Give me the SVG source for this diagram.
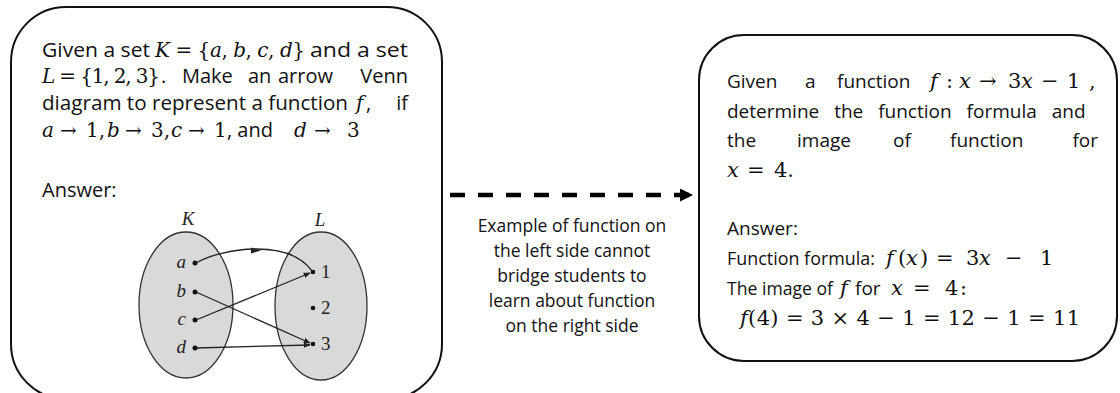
<svg xmlns="http://www.w3.org/2000/svg" width="1120" height="393" viewBox="0 0 1120 393">
<defs>
<style>
.box{fill:#fff;stroke:#111;stroke-width:2}
.t{font-family:"Open Sans","Noto Sans",sans-serif;font-size:20px;fill:#111}
.tr{font-family:"Open Sans","Noto Sans",sans-serif;font-size:19px;fill:#111}
.c{font-family:"Open Sans","Noto Sans",sans-serif;font-size:17.5px;fill:#111;text-anchor:middle}
.m{font-family:"DejaVu Serif","Liberation Serif",serif;font-size:20px;fill:#111}
.mr{font-family:"DejaVu Serif","Liberation Serif",serif;font-size:21px;fill:#111}
.it{font-style:italic}
.vi{font-family:"Liberation Serif","DejaVu Serif",serif;font-style:italic;font-size:19px;fill:#222}
.vr{font-family:"Liberation Serif","DejaVu Serif",serif;font-size:19px;fill:#222}
.ell{fill:#d9d9d9;stroke:#333;stroke-width:1.3}
.va{fill:none;stroke:#222;stroke-width:1.3}
.dot{fill:#111}
</style>
<marker id="ah" viewBox="0 0 10 10" refX="9" refY="5" markerWidth="7" markerHeight="7" orient="auto" markerUnits="userSpaceOnUse">
<path d="M0,1 L10,5 L0,9 Z" fill="#222"/>
</marker>
<marker id="big" viewBox="0 0 10 10" refX="10" refY="5" markerWidth="13" markerHeight="13" orient="auto" markerUnits="userSpaceOnUse">
<path d="M0,0 L10,5 L0,10 Z" fill="#000"/>
</marker>
</defs>

<g id="left-box">
<rect class="box" x="11" y="7" width="431" height="392" rx="55" ry="55"/>
<text class="t" x="42" y="57" textLength="108" lengthAdjust="spacingAndGlyphs">Given a set</text>
<text class="m" x="155" y="57" textLength="150" lengthAdjust="spacing"><tspan class="it">K</tspan> = {<tspan class="it">a</tspan>, <tspan class="it">b</tspan>, <tspan class="it">c</tspan>, <tspan class="it">d</tspan>}</text>
<text class="t" x="310" y="57" textLength="98" lengthAdjust="spacingAndGlyphs">and a set</text>
<text class="m" x="42" y="83" textLength="118" lengthAdjust="spacing"><tspan class="it">L</tspan> = {1, 2, 3}</text>
<text class="t" y="83"><tspan x="161">.</tspan><tspan x="182">Make</tspan><tspan x="248">an</tspan><tspan x="278">arrow</tspan></text>
<text class="t" x="408" y="83" text-anchor="end">Venn</text>
<text class="t" x="42" y="110" textLength="306" lengthAdjust="spacingAndGlyphs">diagram to represent a function</text>
<text class="m it" x="356" y="110">f</text>
<text class="t" x="366" y="110">,</text>
<text class="t" x="408" y="110" text-anchor="end">if</text>
<text class="m" y="137"><tspan class="it" x="42">a</tspan><tspan x="60">→</tspan><tspan x="86">1,</tspan><tspan class="it" x="107">b</tspan><tspan x="125">→</tspan><tspan x="151">3,</tspan><tspan class="it" x="171">c</tspan><tspan x="188">→</tspan><tspan x="214">1</tspan></text>
<text class="t" x="227" y="137">, and</text>
<text class="m" y="137"><tspan class="it" x="294">d</tspan><tspan x="314">→</tspan><tspan x="347">3</tspan></text>
<text class="t" x="42" y="197">Answer:</text>
</g>

<g id="venn">
<ellipse class="ell" cx="186" cy="305" rx="47" ry="73"/>
<ellipse class="ell" cx="321" cy="306" rx="46" ry="74"/>
<text class="vi" x="188" y="225" text-anchor="middle">K</text>
<text class="vi" x="320" y="226" text-anchor="middle">L</text>
<text class="vi" x="186" y="268" text-anchor="end">a</text>
<text class="vi" x="186" y="297" text-anchor="end">b</text>
<text class="vi" x="186" y="325" text-anchor="end">c</text>
<text class="vi" x="186" y="353" text-anchor="end">d</text>
<circle class="dot" cx="195" cy="263" r="2.5"/>
<circle class="dot" cx="195" cy="292" r="2.5"/>
<circle class="dot" cx="195" cy="320" r="2.5"/>
<circle class="dot" cx="195" cy="348" r="2.5"/>
<circle class="dot" cx="313" cy="272" r="2.3"/>
<circle class="dot" cx="313" cy="308" r="2.3"/>
<circle class="dot" cx="313" cy="344" r="2.3"/>
<text class="vr" x="321" y="278">1</text>
<text class="vr" x="321" y="314">2</text>
<text class="vr" x="321" y="350">3</text>
<path class="va" d="M196,263 C222,248 288,238 312,271"/>
<path d="M251,247.5 L261,250.5 L251,253.5 Z" fill="#222"/>
<path class="va" d="M196,320 L310,273" marker-end="url(#ah)"/>
<path class="va" d="M196,292 L310,343" marker-end="url(#ah)"/>
<path class="va" d="M196,348 L310,345" marker-end="url(#ah)"/>
</g>

<g id="connectors">
<path d="M450,195 L693,195" fill="none" stroke="#000" stroke-width="4.5" stroke-dasharray="15,13" marker-end="url(#big)"/>
</g>

<g id="middle-label">
<text class="c" x="572" y="232">Example of function on</text>
<text class="c" x="572" y="257">the left side cannot</text>
<text class="c" x="572" y="282">bridge students to</text>
<text class="c" x="572" y="307">learn about function</text>
<text class="c" x="572" y="332">on the right side</text>
</g>

<g id="right-box">
<rect class="box" x="699" y="35" width="418" height="326" rx="45" ry="45"/>
<text class="tr" y="88"><tspan x="727">Given</tspan><tspan x="805">a</tspan><tspan x="837">function</tspan></text>
<text class="mr" y="88"><tspan class="it" x="930">f</tspan><tspan x="946">:</tspan><tspan class="it" x="959">x</tspan><tspan x="979">→</tspan><tspan x="1008">3</tspan><tspan class="it" x="1021">x</tspan><tspan x="1041">−</tspan><tspan x="1067">1</tspan><tspan x="1089">,</tspan></text>
<text class="tr" x="727" y="118" word-spacing="10">determine the function formula and</text>
<text class="tr" y="147"><tspan x="727">the</tspan><tspan x="797">image</tspan><tspan x="893">of</tspan><tspan x="950">function</tspan></text>
<text class="tr" x="1098" y="147" text-anchor="end">for</text>
<text class="mr" y="177"><tspan class="it" x="727">x</tspan><tspan x="747">=</tspan><tspan x="774">4.</tspan></text>
<text class="tr" x="727" y="235">Answer:</text>
<text class="tr" x="727" y="265" textLength="148" lengthAdjust="spacingAndGlyphs">Function formula:</text>
<text class="mr" y="265"><tspan class="it" x="886">f</tspan><tspan x="898">(</tspan><tspan class="it" x="906">x</tspan><tspan x="920">)</tspan><tspan x="936">=</tspan><tspan x="966">3</tspan><tspan class="it" x="979">x</tspan><tspan x="1005">−</tspan><tspan x="1040">1</tspan></text>
<text class="tr" x="727" y="295" textLength="106" lengthAdjust="spacingAndGlyphs">The image of</text>
<text class="mr it" x="840" y="295">f</text>
<text class="tr" x="855" y="295">for</text>
<text class="mr" y="295"><tspan class="it" x="891">x</tspan><tspan x="913">=</tspan><tspan x="945">4</tspan><tspan x="960">:</tspan></text>
<text class="mr" x="740" y="325" textLength="340" lengthAdjust="spacing"><tspan class="it">f</tspan>(4) = 3 × 4 − 1 = 12 − 1 = 11</text>
</g>
</svg>
